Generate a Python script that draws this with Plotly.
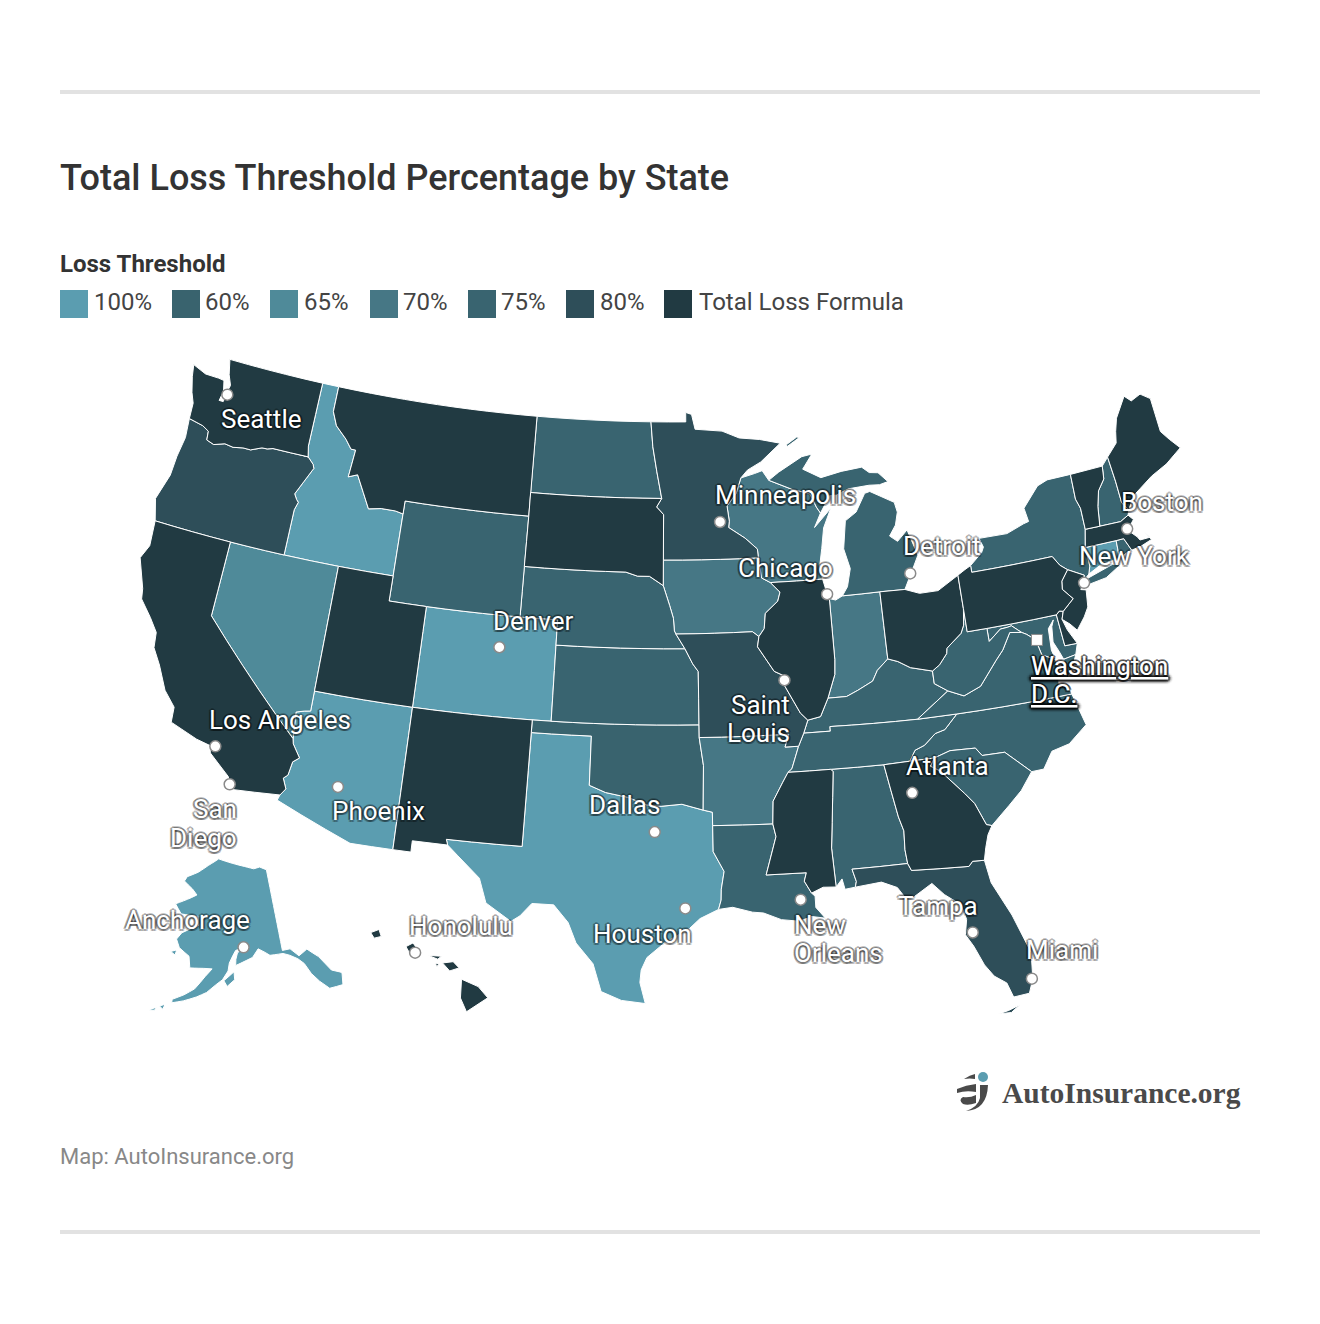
import plotly.graph_objects as go

# ---------- chart values ----------
CATEGORIES = ["100%", "60%", "65%", "70%", "75%", "80%", "Total Loss Formula"]
COLORS = ["#5b9db0", "#39636e", "#4f8a99", "#467785", "#396470", "#2e4e59", "#213a42"]
STATES_100 = ["AK", "AZ", "CO", "CT", "ID", "TX"]
STATES_60 = ["OK"]
STATES_65 = ["NV"]
STATES_70 = ["AR", "IA", "IN", "WI"]
STATES_75 = ["AL", "DC", "KS", "KY", "LA", "MD", "MI", "NC", "ND", "NE", "NH", "NY", "RI", "SC", "TN", "VA", "WV", "WY"]
STATES_80 = ["FL", "MN", "MO", "OR"]
STATES_TLF = ["CA", "DE", "GA", "HI", "IL", "MA", "ME", "MS", "MT", "NJ", "NM", "OH", "PA", "SD", "UT", "VT", "WA"]

CITY_NAMES = ["Seattle", "Minneapolis", "Boston", "Detroit", "New York", "Chicago", "Denver", "Saint Louis",
              "Los Angeles", "Atlanta", "San Diego", "New Orleans", "Phoenix", "Dallas", "Houston", "Tampa",
              "Anchorage", "Honolulu", "Miami"]
CITY_LON = [-122.33, -93.27, -71.06, -83.05, -74.0, -87.63, -104.99, -90.2, -118.24, -84.39, -117.16, -90.07,
            -112.07, -96.8, -95.37, -82.46, -149.9, -157.86, -80.19]
CITY_LAT = [47.61, 44.98, 42.36, 42.33, 40.71, 41.88, 39.74, 38.63, 34.05, 33.75, 32.72, 29.95, 33.45, 32.78,
            29.76, 27.95, 61.22, 21.31, 25.76]
CAPITAL_LON = [-77.04]
CAPITAL_LAT = [38.91]

# ---------- shared state borders (degrees west, degrees north) ----------
CA_COAST = [(124.21,42.0),(124.1,41.0),(124.4,40.44),(123.8,39.3),(123.7,38.9),(123.0,38.3),(122.5,37.8),(122.4,37.2),(121.9,36.6),(121.3,35.7),(120.65,35.15),(120.6,34.55),(119.2,34.15),(118.5,34.03),(118.4,33.75),(117.3,33.0),(117.12,32.53)]
OR_COAST = [(124.05,46.27),(123.95,45.5),(124.1,44.7),(124.15,43.9),(124.55,42.85),(124.21,42.0)]
WA_OR = [(116.92,46.0),(118.98,46.0),(119.3,45.93),(119.6,45.92),(120.2,45.73),(120.65,45.73),(121.2,45.65),(121.7,45.7),(122.3,45.55),(122.75,45.65),(122.8,46.0),(123.2,46.15),(124.05,46.27)]
WA_COAST = [(124.05,46.27),(124.1,46.9),(124.35,47.3),(124.6,47.9),(124.73,48.38),(123.9,48.16),(123.1,48.15),(122.75,48.12),(122.6,47.7),(122.7,47.3),(122.45,47.3),(122.4,47.7),(122.3,48.0),(122.55,48.4),(122.76,49.0)]
ID_OR = [(116.92,46.0),(116.55,45.75),(116.46,45.6),(116.85,45.0),(117.2,44.45),(117.03,44.25),(116.9,44.15),(117.03,43.83),(117.03,42.0)]
ID_MT = [(116.05,49.0),(116.05,47.98),(115.7,47.45),(115.0,47.0),(114.6,46.65),(114.33,46.65),(114.45,45.55),(113.95,45.7),(113.45,45.05),(113.0,44.45),(112.3,44.55),(111.5,44.55),(111.05,44.48)]
CA_AZ = [(114.63,35.0),(114.57,34.8),(114.14,34.3),(114.43,34.1),(114.53,33.55),(114.72,33.4),(114.5,33.0),(114.72,32.72)]
NV_AZ = [(114.04,37.0),(114.04,36.2),(114.35,36.15),(114.74,36.05),(114.68,35.5),(114.63,35.0)]
RIO_GRANDE = [(97.15,25.96),(98.2,26.07),(99.1,26.4),(99.5,27.5),(100.3,28.3),(100.7,29.1),(101.4,29.77),(102.4,29.77),(102.9,29.25),(103.3,29.0),(104.5,29.65),(104.9,30.6),(106.0,31.4),(106.53,31.78)]
RED_RIVER = [(100.0,34.56),(99.2,34.3),(98.1,34.13),(97.2,33.85),(96.5,33.8),(95.5,33.88),(94.48,33.64)]
TX_LA = [(94.04,33.02),(94.04,31.99),(93.55,31.2),(93.7,30.5),(93.72,30.07),(93.85,29.7)]
TX_GULF = [(93.85,29.7),(94.7,29.35),(95.2,28.95),(96.3,28.4),(97.1,27.8),(97.35,27.3),(97.4,26.8),(97.15,25.96)]
LA_GULF = [(89.55,30.18),(89.4,30.05),(89.4,29.6),(89.0,29.15),(89.6,29.25),(90.2,29.1),(91.0,29.2),(91.8,29.5),(92.3,29.55),(93.2,29.77),(93.85,29.7)]
NE_RIVER = [(96.45,42.49),(96.1,41.7),(95.9,41.2),(95.85,40.7),(95.77,40.58),(95.3,40.0)]
MN_WI = [(92.0,46.7),(92.3,46.1),(92.85,45.6),(92.75,45.0),(92.8,44.75),(91.9,44.3),(91.25,43.85),(91.22,43.5)]
WI_IA = [(91.22,43.5),(91.1,42.7),(90.64,42.5)]
IA_IL = [(90.64,42.5),(90.15,42.1),(90.3,41.75),(91.0,41.3),(91.1,40.7),(91.4,40.4)]
WI_MI = [(90.4,46.55),(89.1,46.13),(88.1,45.9),(87.8,45.35),(87.6,45.1)]
MO_IL = [(91.4,40.4),(91.5,40.0),(90.7,39.0),(90.2,38.8),(90.2,38.4),(89.5,37.3),(89.15,37.0)]
AR_TN = [(89.7,36.0),(90.1,35.13),(90.3,35.0)]
AR_MS = [(90.3,35.0),(90.6,34.6),(91.1,33.9),(91.17,33.0)]
LA_MS = [(91.17,33.0),(91.05,32.5),(91.6,31.0)]
MS_AL = [(88.2,35.0),(88.1,34.9),(88.47,31.9),(88.4,30.35)]
AL_GA = [(85.6,34.98),(85.18,32.87),(85.0,32.3),(85.05,31.55),(85.0,31.0)]
AL_FL = [(85.0,31.0),(87.6,31.0),(87.45,30.5),(87.52,30.28)]
GA_FL = [(81.45,30.72),(82.0,30.75),(82.2,30.57),(84.86,30.71),(85.0,31.0)]
GA_SC = [(83.11,35.0),(83.35,34.7),(82.9,34.45),(81.9,33.45),(81.5,33.0),(81.1,32.1),(80.85,32.03)]
NC_SC = [(83.11,35.0),(82.3,35.2),(81.05,35.15),(80.78,34.82),(79.67,34.8),(78.55,33.86)]
NC_TN = [(84.32,35.0),(84.0,35.4),(83.5,35.55),(82.9,35.95),(82.4,36.05),(81.7,36.59)]
OHIO_W = [(89.15,37.0),(88.5,37.1),(88.05,37.8)]
OHIO_IN = [(88.05,37.8),(87.1,37.8),(86.5,38.0),(85.7,38.3),(85.4,38.7),(84.8,39.1)]
OHIO_OH = [(84.8,39.1),(84.3,38.95),(83.7,38.65),(82.6,38.4)]
OH_WV = [(80.52,40.64),(80.65,40.0),(80.85,39.7),(81.7,39.2),(81.75,39.0),(82.2,38.6),(82.6,38.4)]
KY_WV = [(82.6,38.4),(82.6,37.9),(81.97,37.54)]
IL_IN = [(87.53,41.7),(87.53,39.3),(87.6,38.7),(88.05,37.8)]
NY_VT = [(73.35,45.0),(73.4,44.0),(73.25,43.6),(73.27,42.75)]
VT_NH = [(71.5,45.01),(71.6,44.5),(72.05,44.1),(72.3,43.5),(72.46,42.73)]
NH_ME = [(71.08,45.3),(71.0,44.3),(70.98,43.4),(70.7,43.07)]
NY_PA_E = [(79.76,42.27),(79.76,42.0),(75.35,42.0),(75.05,41.6),(74.7,41.36)]
NJ_PA = [(74.7,41.36),(75.13,40.97),(75.2,40.65),(74.75,40.2),(75.4,39.8)]
MD_WV = [(79.48,39.72),(79.48,39.2),(78.8,39.6),(78.4,39.62),(78.2,39.65),(77.75,39.32)]
MD_VA = [(77.75,39.32),(77.5,39.2),(77.12,38.93),(77.05,38.7),(76.95,38.3),(76.3,38.0)]
VA_WV = [(81.97,37.54),(81.2,37.25),(80.3,37.52),(79.3,38.42),(78.87,38.77),(78.35,39.4),(77.75,39.32)]

def rev(seg):
    return seg[::-1]

# ---------- state outlines composed from the borders above ----------
SHAPES = {
 "WA": [[(117.03,49.0),(117.04,46.42)] + WA_OR + WA_COAST],
 "OR": [rev(WA_OR) + OR_COAST + ID_OR[::-1]],
 "CA": [CA_COAST + [(114.72,32.72)] + rev(CA_AZ) + [(120.0,39.0),(120.0,42.0)]],
 "NV": [[(120.0,42.0),(120.0,39.0)] + rev(NV_AZ) + [(114.04,42.0),(117.03,42.0)]],
 "ID": [[(117.03,49.0)] + ID_MT + [(111.05,42.0),(114.04,42.0),(117.03,42.0)] + rev(ID_OR) + [(117.04,46.42)]],
 "MT": [ID_MT + [(111.05,45.0),(104.04,45.0),(104.05,49.0)]],
 "WY": [[(111.05,45.0),(104.04,45.0),(104.05,41.0),(111.05,41.0)]],
 "UT": [[(114.04,42.0),(111.05,42.0),(111.05,41.0),(109.05,41.0),(109.05,37.0),(114.04,37.0)]],
 "CO": [[(109.05,41.0),(102.05,41.0),(102.05,37.0),(109.05,37.0)]],
 "AZ": [NV_AZ + CA_AZ + [(114.8,32.5),(111.07,31.33),(109.05,31.33),(109.05,37.0)]],
 "NM": [[(109.05,37.0),(103.0,37.0),(103.04,32.0),(106.62,32.0),(106.53,31.78),(108.2,31.78),(108.2,31.33),(109.05,31.33)]],
 "TX": [[(106.62,32.0),(103.04,32.0),(103.0,36.5),(100.0,36.5)] + RED_RIVER + [(94.04,33.55)] + TX_LA + TX_GULF + RIO_GRANDE],
 "OK": [[(103.0,37.0),(94.62,37.0),(94.62,36.5),(94.43,35.4)] + rev(RED_RIVER) + [(100.0,36.5),(103.0,36.5)]],
 "KS": [[(102.05,40.0),(95.3,40.0),(94.9,39.4),(94.62,39.1),(94.62,37.0),(102.05,37.0)]],
 "NE": [[(104.05,43.0),(98.5,43.0),(97.85,42.85),(97.2,42.85)] + NE_RIVER + [(102.05,40.0),(102.05,41.0),(104.05,41.0)]],
 "SD": [[(104.04,45.0),(104.05,45.94),(96.56,45.94),(96.85,45.6),(96.45,45.3),(96.45,43.5),(96.45,42.49),(97.2,42.85),(97.85,42.85),(98.5,43.0),(104.05,43.0)]],
 "ND": [[(104.05,49.0),(97.23,49.0),(97.1,48.0),(96.85,47.0),(96.56,45.94),(104.05,45.94)]],
 "MN": [[(97.23,49.0),(95.15,49.0),(95.15,49.38),(94.8,49.3),(94.6,48.7),(93.0,48.6),(92.0,48.3),(90.8,48.2),(89.6,48.0),(90.8,47.3),(91.6,47.0)] + MN_WI + [(96.45,43.5),(96.45,45.3),(96.85,45.6),(96.56,45.94),(96.85,47.0),(97.1,48.0)]],
 "WI": [[(92.0,46.7),(91.2,46.85),(90.75,46.95)] + WI_MI + [(88.0,44.55),(87.0,45.25),(87.5,44.5),(87.7,43.7),(87.9,43.0),(87.8,42.49)] + rev(WI_IA) + rev(MN_WI)[:-1]],
 "IA": [[(96.45,43.5),(91.22,43.5)] + WI_IA[1:] + IA_IL[1:] + [(91.73,40.6),(95.77,40.58),(95.85,40.7),(95.9,41.2),(96.1,41.7),(96.45,42.49)]],
 "MO": [[(95.77,40.58),(91.73,40.6)] + MO_IL + [(89.4,36.5),(89.7,36.0),(90.37,36.0),(90.15,36.5),(94.62,36.5),(94.62,37.0),(94.62,39.1),(94.9,39.4),(95.3,40.0)]],
 "AR": [[(94.62,36.5),(90.15,36.5),(90.37,36.0)] + AR_TN + AR_MS[1:] + [(94.04,33.02),(94.04,33.55),(94.48,33.64),(94.43,35.4)]],
 "LA": [[(94.04,33.02)] + LA_MS + [(89.73,31.0),(89.85,30.67)] + LA_GULF + rev(TX_LA)[1:]],
 "MS": [[(90.3,35.0)] + MS_AL + [(89.0,30.38),(89.55,30.18),(89.85,30.67),(89.73,31.0)] + rev(LA_MS) + rev(AR_MS)[1:-1]],
 "AL": [[(88.2,35.0)] + AL_GA + AL_FL[1:] + [(88.0,30.23),(88.1,30.65),(88.4,30.35)] + rev(MS_AL)[1:-1]],
 "GA": [[(85.6,34.98),(84.32,35.0)] + GA_SC + [(81.1,31.7),(81.3,31.2)] + GA_FL + rev(AL_GA)[1:-1]],
 "FL": [AL_FL + [(86.3,30.38),(85.6,30.1),(85.3,29.68),(84.9,29.65),(84.0,30.1),(83.5,29.6),(82.8,29.1),(82.65,28.5),(82.8,27.9),(82.5,27.4),(82.15,26.6),(81.8,26.1),(81.3,25.75),(81.1,25.15),(80.4,25.2),(80.15,25.75),(80.03,26.8),(80.6,28.4),(81.3,29.8)] + GA_FL[:-1],
        [(81.85,24.57),(81.4,24.65),(80.9,24.8),(81.3,24.55)]],
 "SC": [NC_SC + [(79.2,33.2),(79.9,32.7),(80.85,32.03)] + rev(GA_SC)[1:-1]],
 "NC": [NC_TN + [(75.87,36.55),(75.5,35.25),(76.5,34.65),(77.4,34.5),(77.95,33.87)] + rev(NC_SC)],
 "TN": [[(89.7,36.0),(89.4,36.5),(88.07,36.5),(88.07,36.68),(83.68,36.6),(81.7,36.59)] + rev(NC_TN)[1:] + [(85.6,34.98),(88.2,35.0)] + rev(AR_TN)[:-1]],
 "KY": [OHIO_W + OHIO_IN[1:] + OHIO_OH[1:] + KY_WV[1:] + [(83.68,36.6),(88.07,36.68),(88.07,36.5),(89.4,36.5)]],
 "IL": [IA_IL + MO_IL[1:] + OHIO_W[1:] + rev(IL_IN)[1:] + [(87.6,41.8),(87.8,42.49)]],
 "IN": [IL_IN + OHIO_IN[1:] + [(84.8,41.76),(86.82,41.76),(87.2,41.62)]],
 "OH": [[(84.8,41.76),(83.45,41.73),(82.7,41.5),(81.7,41.5),(80.52,41.98)] + OH_WV + rev(OHIO_OH)[1:]],
 "MI": [[(86.82,41.76),(86.5,42.1),(86.25,42.8),(86.5,43.6),(86.25,44.7),(85.6,45.0),(85.0,45.7),(84.7,45.75),(83.4,45.2),(83.3,44.8),(83.5,44.3),(83.9,43.9),(83.5,43.65),(82.9,44.05),(82.5,43.0),(82.8,42.6),(83.1,42.2),(83.45,41.73),(84.8,41.76)],
        rev(WI_MI) + [(89.8,46.85),(88.4,47.4),(87.8,47.47),(88.4,46.9),(87.4,46.5),(86.2,46.67),(85.0,46.75),(84.6,46.5),(84.1,46.45),(83.6,46.05),(84.1,45.97),(84.7,46.0),(85.9,45.95),(86.6,45.75),(87.0,45.75)],
        [(89.2,47.85),(88.45,48.17),(88.6,48.2),(89.25,47.92)]],
 "PA": [[(80.52,41.98),(80.1,42.15)] + NY_PA_E + NJ_PA[1:] + [(75.6,39.84),(75.79,39.72),(79.48,39.72),(80.52,39.72),(80.52,40.64)]],
 "NY": [[(79.76,42.27),(79.05,42.7),(78.9,42.9),(79.05,43.27),(77.5,43.25),(76.5,43.5),(76.2,43.55),(76.3,44.1),(75.3,44.85),(74.7,45.0)] + NY_VT + [(73.5,42.05),(73.5,41.3),(73.65,41.0),(73.9,40.85),(73.9,41.0)] + rev(NY_PA_E)[:-1],
        [(74.0,40.58),(73.75,40.85),(72.3,41.15),(71.87,41.07),(72.8,40.7)]],
 "NJ": [NJ_PA + [(75.55,39.5),(75.2,39.25),(74.9,38.95),(74.4,39.4),(74.1,39.75),(73.98,40.42),(74.25,40.48),(74.1,40.65),(73.9,41.0)]],
 "VT": [NY_VT + rev(VT_NH)],
 "NH": [VT_NH + [(71.3,42.7),(70.82,42.87),(70.7,43.07)] + rev(NH_ME)[1:]],
 "ME": [NH_ME + [(70.25,43.55),(69.8,43.75),(69.0,44.1),(68.0,44.4),(67.0,44.85),(67.45,45.3),(67.8,45.7),(67.8,47.07),(68.3,47.36),(68.9,47.2),(69.23,47.46),(70.0,46.7),(70.25,46.2),(70.4,45.75)]],
 "MA": [[(73.5,42.05),(73.27,42.75),(72.46,42.73),(71.3,42.7),(70.82,42.87),(70.6,42.65),(71.05,42.3),(70.65,41.95),(70.55,41.8),(70.0,41.8),(70.2,42.07),(69.95,41.7),(70.6,41.55),(71.12,41.5),(71.38,42.02),(71.8,42.02)]],
 "RI": [[(71.38,42.02),(71.8,42.02),(71.86,41.32),(71.4,41.45),(71.12,41.5)]],
 "CT": [[(73.5,42.05),(71.8,42.02),(71.86,41.32),(72.9,41.25),(73.65,41.0),(73.5,41.3)]],
 "DE": [[(75.79,39.72),(75.6,39.84),(75.4,39.8),(75.55,39.5),(75.4,39.05),(75.05,38.45),(75.7,38.46)]],
 "MD": [[(79.48,39.72),(75.79,39.72),(75.7,38.46),(75.05,38.45),(75.25,38.03),(75.9,37.95),(76.05,38.3),(76.25,38.7),(76.15,39.3),(76.0,39.55),(76.35,39.25),(76.42,38.4),(76.3,38.0)] + rev(MD_VA)[1:] + rev(MD_WV)[1:]],
 "WV": [[(80.52,39.72)] + MD_WV + rev(VA_WV)[1:] + rev(KY_WV)[1:] + rev(OH_WV)[1:]],
 "VA": [VA_WV + MD_VA[1:] + [(76.3,37.5),(76.4,37.0),(75.97,36.9),(75.87,36.55),(81.7,36.59),(83.68,36.6)],
        [(75.9,37.95),(75.25,38.03),(75.6,37.5),(75.95,37.15)]],
 "DC": [[(77.12,38.93),(77.04,39.0),(76.91,38.89),(77.04,38.79)]],
 "AK": [[(141.0,69.65),(143.0,70.1),(145.0,70.0),(148.0,70.4),(152.0,70.85),(156.6,71.35),(160.0,70.5),(163.0,69.6),(166.2,68.9),(166.8,68.35),(164.0,67.6),(162.5,67.0),(164.0,66.6),(168.0,65.6),(166.0,64.6),(161.5,64.6),(161.0,63.6),(163.0,63.1),(165.0,62.5),(166.0,61.7),(165.0,60.8),(162.5,60.0),(162.0,58.7),(159.0,58.8),(157.1,58.8),(158.5,57.9),(160.5,56.4),(162.5,55.6),(164.7,54.9),(164.7,54.5),(162.5,54.9),(160.0,55.5),(158.0,56.1),(156.2,57.0),(154.8,57.6),(153.6,58.6),(153.3,59.5),(152.5,60.3),(151.8,60.9),(150.0,61.2),(151.4,60.6),(151.8,59.9),(151.9,59.2),(149.5,59.7),(148.0,60.0),(146.5,60.9),(145.0,60.4),(144.0,60.0),(141.0,59.95),(139.6,59.6),(138.0,59.0),(136.9,58.3),(136.0,57.0),(134.8,55.9),(133.3,54.8),(130.6,54.7),(130.0,55.9),(130.1,56.1),(131.8,56.7),(133.5,58.6),(135.5,59.8),(137.6,59.3),(139.2,60.3),(141.0,60.3)],
        [(154.5,57.5),(152.3,58.5),(152.2,57.6),(153.8,56.85)],
        [(166.8,60.2),(165.5,60.5),(165.7,59.9)],
        [(166.9,53.9),(165.9,54.2),(166.2,53.6)],
        [(168.8,53.2),(167.4,53.7),(167.7,53.3)]],
 "HI": [[(155.9,20.25),(155.2,19.95),(154.8,19.5),(155.7,18.95),(155.95,19.5)],
        [(156.7,20.9),(156.25,20.95),(156.0,20.7),(156.4,20.58)],
        [(157.3,21.2),(156.75,21.17),(156.9,21.05)],
        [(157.0,20.9),(156.85,20.85),(156.95,20.75)],
        [(158.25,21.55),(157.95,21.7),(157.65,21.3),(158.1,21.3)],
        [(159.75,22.1),(159.4,22.23),(159.3,21.95),(159.6,21.88)]],
}

def to_ring(points):
    ring = []
    pts = list(points)
    if pts[0] != pts[-1]:
        pts.append(pts[0])
    for (a, b), (c, d) in zip(pts[:-1], pts[1:]):
        n = max(1, int(max(abs(c - a), abs(d - b))))
        for i in range(n):
            ring.append([-(a + (c - a) * i / n), b + (d - b) * i / n])
    ring.append(ring[0])
    area = sum(x0 * y1 - x1 * y0 for (x0, y0), (x1, y1) in zip(ring[:-1], ring[1:]))
    return ring[::-1] if area > 0 else ring

fig = go.Figure()
groups = [STATES_100, STATES_60, STATES_65, STATES_70, STATES_75, STATES_80, STATES_TLF]
for name, color, members in zip(CATEGORIES, COLORS, groups):
    for s in members:
        lons, lats = [], []
        for r in SHAPES[s]:
            ring = to_ring(r)
            lons += [p[0] for p in ring] + [None]
            lats += [p[1] for p in ring] + [None]
        fig.add_trace(go.Scattergeo(lon=lons[:-1], lat=lats[:-1], mode="lines", fill="toself", fillcolor=color,
                                    line=dict(color="white", width=1), name=s, hoverinfo="name", showlegend=False))
fig.add_trace(go.Scattergeo(lon=CITY_LON, lat=CITY_LAT, mode="markers", showlegend=False, hoverinfo="text",
                            marker=dict(size=11, color="white", line=dict(color="#8a8a8a", width=1.5)), text=CITY_NAMES))
fig.add_trace(go.Scattergeo(lon=CAPITAL_LON, lat=CAPITAL_LAT, mode="markers", showlegend=False, hoverinfo="text",
                            marker=dict(size=11, symbol="square", color="white", line=dict(color="#8a8a8a", width=1)), text=["Washington D.C."]))

W, H = 1320, 1324
fig.update_geos(projection_type="albers usa", scope="usa", visible=False, showland=False, showlakes=False,
                showcoastlines=False, showsubunits=False, showcountries=False, showframe=False,
                bgcolor="rgba(0,0,0,0)", domain=dict(x=[0.0027, 0.9971], y=[0.1494, 0.8207]))

def px(x): return x / W
def py(y): return 1 - y / H

def note(x, y, text, size, color, anchor="left", family="Roboto", weight=400, shadow=None):
    fig.add_annotation(x=px(x), y=py(y), xref="paper", yref="paper", text=text, showarrow=False, xanchor=anchor,
                       yanchor="middle", align=anchor, borderpad=0, borderwidth=0,
                       font=dict(family=family, size=size, color=color, weight=weight,
                                 **({"shadow": shadow} if shadow else {})))

def rect(x0, y0, x1, y1, color):
    fig.add_shape(type="rect", xref="paper", yref="paper", x0=px(x0), x1=px(x1), y0=py(y0), y1=py(y1),
                  fillcolor=color, line_width=0)

def glyph(segments, color):
    parts = []
    for cmd, pts in segments:
        parts.append(cmd + " ".join(f"{px(x):.5f},{py(y):.5f}" for x, y in pts))
    fig.add_shape(type="path", xref="paper", yref="paper", path=" ".join(parts) + " Z", fillcolor=color, line_width=0)

rect(60, 90, 1260, 94, "#e2e2e2")
rect(60, 1230, 1260, 1234, "#e2e2e2")
note(60, 178, "Total Loss Threshold Percentage by State", 36, "#333333", weight=500)
note(60, 264, "Loss Threshold", 24, "#333333", weight=700)
SWATCH_X = [60, 172, 270, 370, 468, 566, 664]
LEGEND_TEXT_X = [93.5, 204.5, 303.5, 402.5, 500.5, 599.5, 698.5]
for sx, tx, c, lab in zip(SWATCH_X, LEGEND_TEXT_X, COLORS, CATEGORIES):
    rect(sx, 290, sx + 28, 318, c)
    note(tx, 302, lab, 24, "#444444")
note(60, 1156, "Map: AutoInsurance.org", 22, "#888888")
note(1002, 1093, "AutoInsurance.org", 29.5, "#4a4a4a", family="Liberation Serif", weight=700)
fig.add_shape(type="circle", xref="paper", yref="paper", x0=px(978), x1=px(988), y0=py(1072), y1=py(1082),
              fillcolor="#5b9db0", line_width=0)
LOGO = "#4a4a4a"
glyph([("M", [(964,1079)]), ("Q", [(970,1075),(975,1074)]), ("L", [(975,1079)]), ("Q", [(970,1078),(964,1079)])], LOGO)
glyph([("M", [(957,1089)]), ("Q", [(966,1085),(976,1084)]), ("L", [(976,1092)]), ("Q", [(966,1090),(957,1093)])], LOGO)
glyph([("M", [(976,1095)]), ("L", [(976,1103)]), ("Q", [(968,1106),(963,1104)]), ("Q", [(958,1100),(963,1097)]), ("Q", [(970,1098),(976,1095)])], LOGO)
glyph([("M", [(980,1085)]), ("L", [(988,1085),(988,1100)]), ("Q", [(987,1110),(966,1111)]), ("Q", [(978,1107),(980,1098)])], LOGO)

d = 2.2
halo_c = "rgba(0,0,0,0.24)"
offsets = [(d,0),(-d,0),(0,d),(0,-d),(d*.7,d*.7),(-d*.7,d*.7),(d*.7,-d*.7),(-d*.7,-d*.7)]
HALO = ",".join(f"{a:.1f}px {b:.1f}px 0 {halo_c}" for a, b in offsets)
LABELS = [("Seattle",261,419,"center"),("Minneapolis",785,495,"center"),("Boston",1162,502,"center"),
          ("Detroit",942,546,"center"),("New York",1134,556,"center"),("Chicago",785,568,"center"),
          ("Denver",533,621,"center"),("<u>Washington</u>",1031,665.5,"left"),("<u>D.C.</u>",1031,693.5,"left"),
          ("Saint",790,705,"right"),("Louis",790,733,"right"),
          ("Los Angeles",280,720,"center"),("Atlanta",947,766,"center"),("San",237,809,"right"),("Diego",237,838,"right"),
          ("New",794,924.5,"left"),("Orleans",794,952.5,"left"),("Phoenix",378,811,"center"),("Dallas",624,805,"center"),
          ("Houston",642,934,"center"),("Tampa",938,906,"center"),("Anchorage",187,920,"center"),
          ("Honolulu",461,926,"center"),("Miami",1062,950,"center")]
for t, x, y, a in LABELS:
    note(x, y, t, 26, "white", anchor=a, shadow=HALO)

fig.update_layout(width=W, height=H, margin=dict(l=0, r=0, t=0, b=0, autoexpand=False), paper_bgcolor="white",
                  showlegend=False, font=dict(family="Roboto"))
fig.write_html("out.html", post_script="document.body.style.margin='0';", config={"displayModeBar": False})
